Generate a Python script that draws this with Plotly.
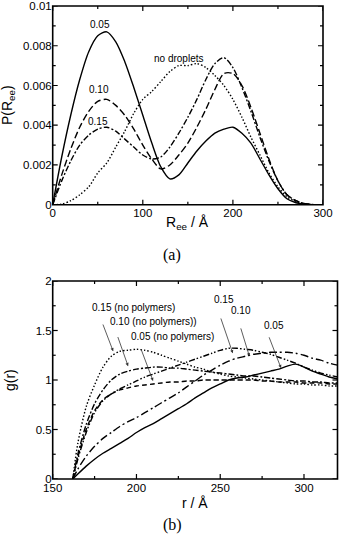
import plotly.graph_objects as go

# ---------------- data: panel (a) ----------------
R_ee = [0, 10, 20, 30, 40, 50, 60, 70, 80, 90, 100, 110, 120, 130, 140, 150,
        160, 170, 180, 190, 200, 210, 220, 230, 240, 250, 260, 270, 280, 290]
P_005 = [0, .0024, .0045, .0063, .0077, .0085, .0087, .0082, .0072, .0059, .0045, .0031,
         .0019, .0013, .0015, .0021, .0027, .0032, .0036, .0038, .0039, .0036, .0031,
         .0023, .0015, .0008, .0003, .0001, .00002, 0]
P_010 = [0, .0015, .0028, .0039, .0047, .0052, .0053, .0050, .0045, .0038, .0030, .0023,
         .0018, .0020, .0025, .0031, .0039, .0048, .0058, .0066, .0066, .0060, .0049,
         .0036, .0023, .0012, .0005, .0002, .00005, 0]
P_015 = [0, .0012, .0022, .0030, .0035, .0038, .0039, .0037, .0033, .0029, .0025, .0023,
         .0024, .0029, .0036, .0044, .0053, .0063, .0071, .0074, .0069, .0059, .0047,
         .0034, .0022, .0012, .0005, .0002, .00005, 0]
P_nodrop = [0, .00003, .0002, .0005, .0009, .0016, .0021, .0029, .0037, .0046, .0053, .0057,
            .0062, .0067, .0070, .0070, .0071, .0069, .0065, .0060, .0053, .0044, .0034,
            .0025, .0016, .0009, .0004, .00015, .00003, 0]
ticks_a_x = [0, 50, 100, 150, 200, 250, 300]
ticks_a_y = [0, .001, .002, .003, .004, .005, .006, .007, .008, .009, .01]

# ---------------- data: panel (b) ----------------
r = [162, 165, 170, 175, 180, 185, 190, 195, 200, 205, 210, 215, 220, 225, 230, 235,
     240, 245, 250, 255, 260, 265, 270, 275, 280, 285, 290, 295, 300, 305, 310, 315, 320]
g_015_np = [0, .36, .73, .95, 1.13, 1.24, 1.29, 1.30, 1.31, 1.30, 1.28, 1.25, 1.22, 1.19,
            1.16, 1.13, 1.11, 1.08, 1.06, 1.04, 1.03, 1.02, 1.01, 1.0, .99, .98, .97, .96,
            .96, .95, .95, .94, .94]
g_010_np = [0, .25, .55, .76, .9, 1.0, 1.06, 1.09, 1.11, 1.12, 1.13, 1.13, 1.12, 1.12, 1.11,
            1.10, 1.09, 1.08, 1.07, 1.06, 1.05, 1.04, 1.04, 1.03, 1.02, 1.01, 1.0, .99, .99,
            .98, .98, .97, .97]
g_005_np = [0, .22, .5, .69, .8, .86, .9, .92, .94, .95, .96, .97, .98, .98, .99, .99, 1.0,
            1.0, 1.0, 1.0, 1.0, 1.0, 1.0, .99, .99, .98, .98, .98, .97, .97, .97, .96, .96]
g_015 = [0, .2, .47, .67, .79, .86, .91, .95, .99, 1.03, 1.06, 1.09, 1.12, 1.15, 1.18, 1.21,
         1.24, 1.27, 1.30, 1.32, 1.32, 1.31, 1.30, 1.28, 1.26, 1.23, 1.20, 1.17, 1.13, 1.10,
         1.07, 1.05, 1.03]
g_010 = [0, .1, .23, .33, .41, .47, .53, .58, .62, .67, .72, .77, .82, .87, .93, .99, 1.05,
         1.1, 1.15, 1.19, 1.22, 1.24, 1.26, 1.27, 1.28, 1.28, 1.28, 1.27, 1.25, 1.22, 1.2,
         1.17, 1.15]
g_005 = [0, .05, .13, .2, .26, .31, .36, .41, .47, .52, .56, .61, .66, .71, .76, .82, .87,
         .92, .96, 1.0, 1.02, 1.03, 1.05, 1.07, 1.09, 1.11, 1.14, 1.16, 1.13, 1.09, 1.06,
         1.03, 1.01]
ticks_b_x = [150, 175, 200, 225, 250, 275, 300]
ticks_b_y = [0, .25, .5, .75, 1, 1.25, 1.5, 1.75, 2]

W, H = 340, 534
FONT = "Liberation Sans, Arial, sans-serif"
SERIF = "Liberation Serif, Times New Roman, serif"
LW = 1.4

fig = go.Figure()

def add(x, y, dash, xa, ya):
    fig.add_trace(go.Scatter(x=x, y=y, mode="lines", xaxis=xa, yaxis=ya,
                             line=dict(color="black", width=LW, dash=dash,
                                       shape="spline", smoothing=0.8),
                             showlegend=False, hoverinfo="skip"))

add(R_ee, P_nodrop, "1.5px,2px", "x", "y")
add(R_ee, P_015, "6px,2px,2px,2px", "x", "y")
add(R_ee, P_010, "7px,3px", "x", "y")
add(R_ee, P_005, "solid", "x", "y")

add(r, g_015_np, "1.5px,2px", "x2", "y2")
add(r, g_010_np, "6px,2px,2px,2px", "x2", "y2")
add(r, g_005_np, "5px,3px", "x2", "y2")
add(r, g_015, "6px,2px,1.5px,2px,1.5px,2px", "x2", "y2")
add(r, g_010, "8px,3px,2px,3px", "x2", "y2")
add(r, g_005, "solid", "x2", "y2")

def axis(domain, rng, dtick, anchor, tick0=None):
    d = dict(domain=domain, range=rng, dtick=dtick, anchor=anchor, automargin=False,
             showgrid=False, zeroline=False, showline=False, ticks="", ticklen=0,
             tickfont=dict(family=FONT, size=11.5, color="black"))
    if tick0 is not None:
        d["tick0"] = tick0
    return d

def px(xp):
    return xp / W

def py(yp):
    return 1 - yp / H

fig.update_layout(
    template="none",
    width=W, height=H, margin=dict(l=0, r=0, t=0, b=0, autoexpand=False),
    paper_bgcolor="white", plot_bgcolor="rgba(0,0,0,0)",
    xaxis=axis([px(52.7), px(323)], [0, 300], 100, "y"),
    yaxis=axis([py(204.7), py(6)], [0, 0.01], 0.002, "x"),
    xaxis2=axis([px(52.7), px(337.5)], [150, 320], 50, "y2", tick0=150),
    yaxis2=axis([py(479), py(281)], [0, 2], 0.5, "x2"),
)

# frames and inside ticks (mirrored on all four sides)
TICK = dict(color="black", width=1.2)
for xa, ya in (("x", "y"), ("x2", "y2")):
    fig.add_shape(type="rect", xref=xa + " domain", yref=ya + " domain",
                  x0=0, x1=1, y0=0, y1=1, line=dict(color="black", width=1.6),
                  layer="above")

def xticks(vals, xa, ya):
    for i, v in enumerate(vals):
        L = 5 if i % 2 == 0 else 3
        for anchor, sgn in ((0, 1), (1, -1)):
            fig.add_shape(type="line", xref=xa, yref=ya + " domain", ysizemode="pixel",
                          yanchor=anchor, x0=v, x1=v, y0=0, y1=sgn * L, line=TICK,
                          layer="above")

def yticks(vals, xa, ya):
    for i, v in enumerate(vals):
        L = 5 if i % 2 == 0 else 3
        for anchor, sgn in ((0, 1), (1, -1)):
            fig.add_shape(type="line", xref=xa + " domain", yref=ya, xsizemode="pixel",
                          xanchor=anchor, x0=0, x1=sgn * L, y0=v, y1=v, line=TICK,
                          layer="above")

xticks(ticks_a_x, "x", "y")
yticks(ticks_a_y, "x", "y")
xticks(ticks_b_x, "x2", "y2")
yticks(ticks_b_y, "x2", "y2")

def text(s, xp, yp, size=10, family=FONT, angle=0):
    fig.add_annotation(text=s, x=px(xp), y=py(yp), xref="paper", yref="paper",
                       showarrow=False, xanchor="center", yanchor="middle",
                       textangle=angle, font=dict(family=family, size=size, color="black"))

# panel (a) labels
text("0.05", 100.3, 24)
text("0.10", 99.3, 90)
text("0.15", 97.7, 121)
text("no droplets", 178.3, 58.3)
text("P(R<sub>ee</sub>)", 8, 105, size=14, angle=-90)
text("R<sub>ee</sub> / Å", 187, 223, size=14)
text("(a)", 172, 255, size=16, family=SERIF)

# panel (b) labels
text("0.15 (no polymers)", 133.7, 307.7)
text("0.10 (no polymers))", 153, 321.7)
text("0.05 (no polymers)", 172.5, 336)
text("0.15", 224, 299.3)
text("0.10", 241, 310.7)
text("0.05", 273.8, 325)
text("g(r)", 10, 380, size=14, angle=-90)
text("r / Å", 195, 503, size=14)
text("(b)", 172, 525, size=16, family=SERIF)

arrows = [((178.2, 1.64), (186.1, 1.29)),
          ((187.1, 1.52), (195.0, 1.14)),
          ((201.0, 1.39), (209.9, 0.99)),
          ((248.6, 1.71), (257.5, 1.27)),
          ((260.5, 1.62), (267.4, 1.24)),
          ((277.4, 1.51), (286.3, 1.12))]
for (tx, ty), (hx, hy) in arrows:
    fig.add_annotation(x=hx, y=hy, ax=tx, ay=ty, xref="x2", yref="y2",
                       axref="x2", ayref="y2", text=" ", showarrow=True,
                       arrowhead=2, arrowsize=0.8, arrowwidth=0.8,
                       arrowcolor="#333333", standoff=0, startstandoff=0)

fig.write_html("out.html", config={"displayModeBar": False},
               post_script="document.body.style.margin='0px';")
